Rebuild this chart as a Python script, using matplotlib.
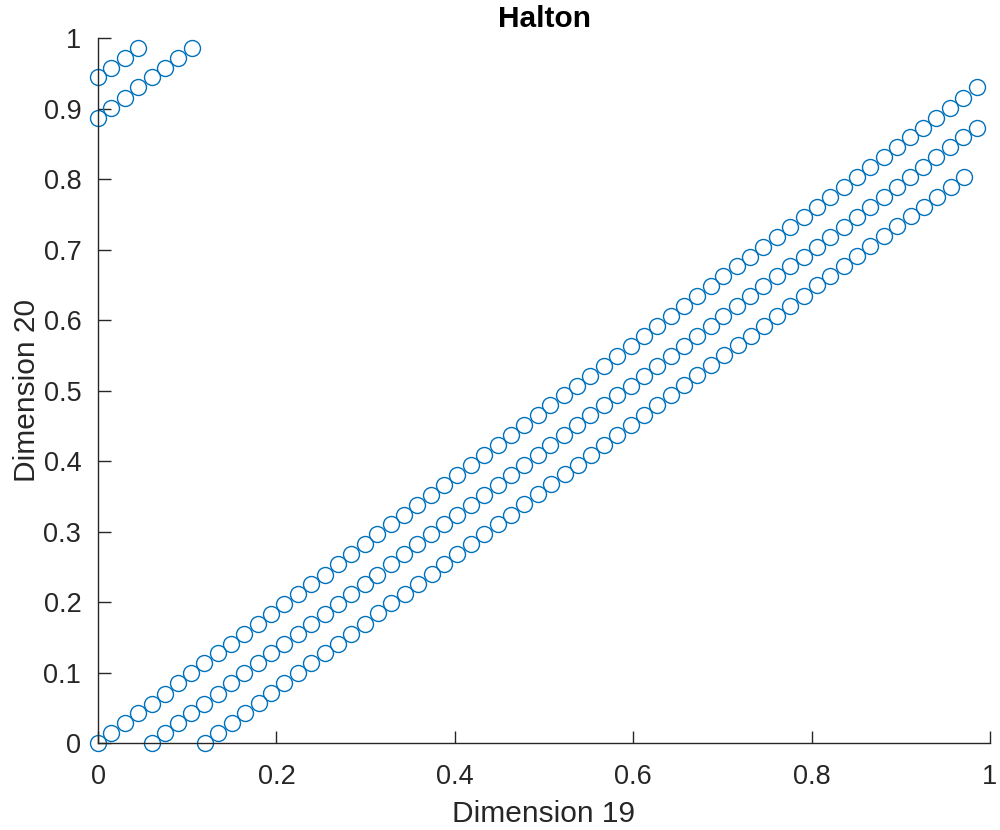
import matplotlib
matplotlib.use("Agg")
import matplotlib.pyplot as plt

# Halton points, dimension 19 (x) vs dimension 20 (y), grouped by runs
run1_x = [0, .015, .030, .045, .060, .075, .090, .104, .119, .134, .149, .164, .179, .194,
          .209, .224, .239, .254, .269, .284, .299, .313, .328, .343, .358, .373, .388, .403,
          .418, .433, .448, .463, .478, .493, .507, .522, .537, .552, .567, .582, .597, .612,
          .627, .642, .657, .672, .687, .701, .716, .731, .746, .761, .776, .791, .806, .821,
          .836, .851, .866, .881, .896, .910, .925, .940, .955, .970, .985]
run1_y = [0, .014, .028, .042, .056, .070, .085, .099, .113, .127, .141, .155, .169, .183,
          .197, .211, .225, .239, .254, .268, .282, .296, .310, .324, .338, .352, .366, .380,
          .394, .408, .423, .437, .451, .465, .479, .493, .507, .521, .535, .549, .563, .577,
          .592, .606, .620, .634, .648, .662, .676, .690, .704, .718, .732, .746, .761, .775,
          .789, .803, .817, .831, .845, .859, .873, .887, .901, .915, .930]

run2_x = [.000, .015, .030, .045]
run2_y = [.944, .958, .972, .986]

run3_x = [.060, .075, .090, .104, .119, .134, .149, .164, .179, .194, .209, .224, .239, .254,
          .269, .284, .299, .313, .328, .343, .358, .373, .388, .403, .418, .433, .448, .463,
          .478, .493, .507, .522, .537, .552, .567, .582, .597, .612, .627, .642, .657, .672,
          .687, .701, .716, .731, .746, .761, .776, .791, .806, .821, .836, .851, .866, .881,
          .896, .910, .925, .940, .955, .970, .985]
run3_y = [.000, .014, .028, .042, .056, .070, .085, .099, .113, .127, .141, .155, .169, .183,
          .197, .211, .225, .239, .254, .268, .282, .296, .310, .324, .338, .352, .366, .380,
          .394, .408, .423, .437, .451, .465, .479, .493, .507, .521, .535, .549, .563, .577,
          .592, .606, .620, .634, .648, .662, .676, .690, .704, .718, .732, .746, .761, .775,
          .789, .803, .817, .831, .845, .859, .873]

run4_x = [.000, .015, .030, .045, .060, .075, .090, .105]
run4_y = [.887, .901, .915, .930, .944, .958, .972, .986]

run5_x = [.120, .135, .150, .165, .180, .194, .209, .224, .239, .254, .269, .284, .299, .314,
          .329, .344, .359, .374, .388, .403, .418, .433, .448, .463, .478, .493, .508, .523,
          .538, .553, .567, .582, .597, .612, .627, .642, .657, .672, .687, .702, .717, .732,
          .747, .761, .776, .791, .806, .821, .836, .851, .866, .881, .896, .911, .926, .941,
          .956, .971]
run5_y = [.000, .014, .029, .043, .057, .071, .085, .099, .113, .127, .141, .155, .169, .184,
          .198, .212, .226, .240, .254, .268, .282, .296, .310, .324, .339, .353, .367, .381,
          .395, .409, .423, .437, .451, .465, .479, .494, .508, .522, .536, .550, .564, .578,
          .592, .606, .620, .634, .649, .663, .677, .691, .705, .719, .733, .747, .761, .775,
          .789, .803]

xs = run1_x + run2_x + run3_x + run4_x + run5_x
ys = run1_y + run2_y + run3_y + run4_y + run5_y

x_ticks = [0, 0.2, 0.4, 0.6, 0.8, 1]
y_ticks = [0, 0.1, 0.2, 0.3, 0.4, 0.5, 0.6, 0.7, 0.8, 0.9, 1]

plt.rcParams["font.family"] = ["Liberation Sans", "DejaVu Sans"]
text_col = "#262626"

fig = plt.figure(figsize=(10, 8.3), dpi=100)
ax = fig.add_axes([0.098, 0.1048, 0.892, 0.8494])
ax.plot(xs, ys, linestyle="none", marker="o", markersize=11.5,
        markerfacecolor="none", markeredgecolor="#0072BD", markeredgewidth=1.0,
        clip_on=False)

ax.set_xlim(0, 1)
ax.set_ylim(0, 1)
ax.set_xticks(x_ticks)
ax.set_xticklabels(["0", "0.2", "0.4", "0.6", "0.8", "1"])
ax.set_yticks(y_ticks)
ax.set_yticklabels(["0", "0.1", "0.2", "0.3", "0.4", "0.5", "0.6", "0.7", "0.8", "0.9", "1"])

for side in ("top", "right"):
    ax.spines[side].set_visible(False)
for side in ("left", "bottom"):
    ax.spines[side].set_color(text_col)
    ax.spines[side].set_linewidth(1.0)

ax.tick_params(direction="in", length=9, width=1.0, colors=text_col,
               labelsize=19.5, labelcolor=text_col)
ax.tick_params(axis="x", pad=15)
ax.tick_params(axis="y", pad=12)

ax.set_xlabel("Dimension 19", fontsize=21.5, color=text_col, labelpad=7)
ax.set_ylabel("Dimension 20", fontsize=21.5, color=text_col, labelpad=2)
ax.set_title("Halton", fontsize=21.5, fontweight="bold", color="black", pad=8)

fig.savefig("out.png", dpi=100)
